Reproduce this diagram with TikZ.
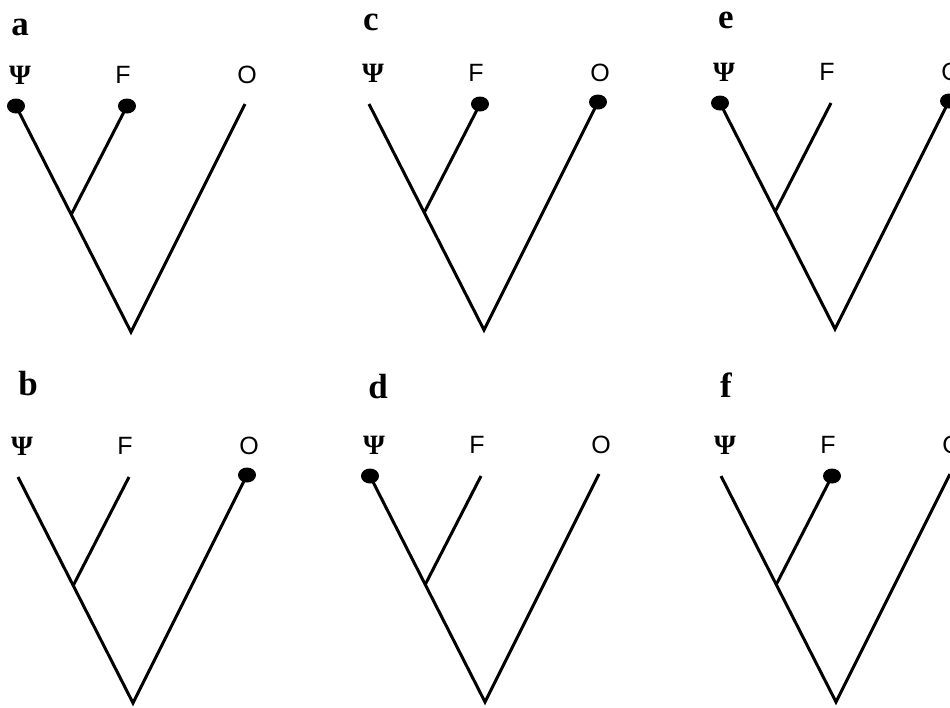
\documentclass[tikz,border=0pt]{standalone}
\usepackage{fontspec}
\newfontfamily\tiplabelfont{Liberation Sans}
\newfontfamily\panelfont{Liberation Serif}
\usepackage{tikz}
\usetikzlibrary{positioning, calc, shapes.geometric}

\begin{document}
\begin{tikzpicture}[
	x=1pt, y=-1pt,
	% Style for branches
	branch/.style={line width=3pt, line join=miter},
	% Style for filled tip marks
	tipdot/.style={ellipse, fill=black, inner sep=0pt, minimum width=18pt, minimum height=15pt},
	% Style for taxon labels and panel letters
	taxon/.style={font=\tiplabelfont\fontsize{25}{25}\selectfont, inner sep=0pt},
	psitaxon/.style={font=\panelfont\bfseries\fontsize{28}{28}\selectfont, inner sep=0pt},
	panel/.style={font=\panelfont\bfseries\fontsize{35}{35}\selectfont, inner sep=0pt}
	]
	
	\useasboundingbox (0,0) rectangle (950,707);
	
	% --- SIX TREES: panel / root x / root y / letter x / letter y / dots on Psi, F, O ---
	\foreach \pan/\rx/\ry/\lx/\ly/\dotP/\dotF/\dotO in {
		a/131/332/20/27/1/1/0,
		b/133/703/28/384/0/0/1,
		c/484/330/371/22/0/1/1,
		d/485/702/378/387/1/0/0,
		e/835/329/726/20/1/0/1,
		f/836/702/726/385/0/1/0} {
		
		% Panel letter
		\node[panel] (\pan-letter) at (\lx,\ly) {\pan};
		
		% Tree points
		\coordinate (\pan-root) at (\rx,\ry);
		\coordinate (\pan-in) at ($(\pan-root)+(-60,-117)$);
		\coordinate (\pan-psi) at ($(\pan-root)+(-115,-226)$);
		\coordinate (\pan-f) at ($(\pan-root)+(-4,-226)$);
		\coordinate (\pan-o) at ($(\pan-root)+(114,-228)$);
		
		% Taxon labels
		\node[psitaxon] (\pan-psilabel) at ($(\pan-root)+(-111,-257)$) {Ψ};
		\node[taxon] (\pan-flabel) at ($(\pan-root)+(-8,-257)$) {F};
		\node[taxon] (\pan-olabel) at ($(\pan-root)+(116,-257)$) {O};
		
		% Branches
		\draw[branch] (\pan-psi) -- (\pan-root) -- (\pan-o);
		\draw[branch] (\pan-in) -- (\pan-f);
		
		% Marked tips
		\ifnum\dotP=1 \node[tipdot] (\pan-psidot) at (\pan-psi) {}; \fi
		\ifnum\dotF=1 \node[tipdot] (\pan-fdot) at (\pan-f) {}; \fi
		\ifnum\dotO=1 \node[tipdot] (\pan-odot) at (\pan-o) {}; \fi
	}
	
\end{tikzpicture}
\end{document}
